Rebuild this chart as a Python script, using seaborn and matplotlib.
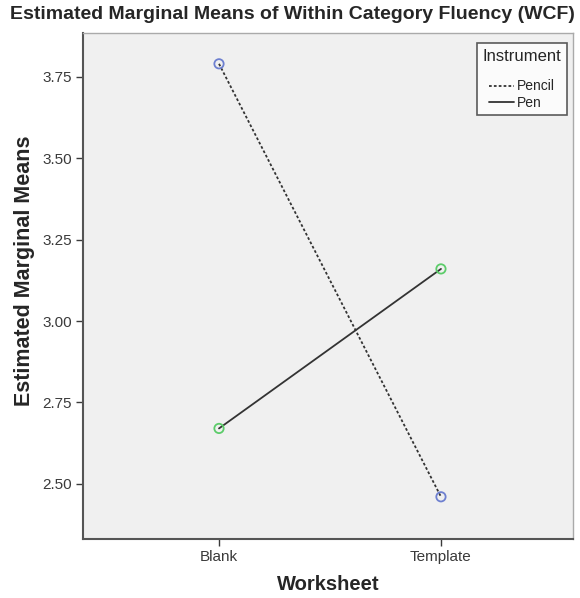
import pandas as pd
import matplotlib
matplotlib.use("Agg")
import matplotlib.pyplot as plt
import seaborn as sns
from matplotlib.lines import Line2D

worksheet = ["Blank", "Template"]
pencil_means = [3.79, 2.46]
pen_means = [2.67, 3.16]
instruments = ["Pencil", "Pen"]

df = pd.DataFrame({
    "Worksheet": worksheet * 2,
    "Mean": pencil_means + pen_means,
    "Instrument": ["Pencil"] * 2 + ["Pen"] * 2,
})
df["x"] = df["Worksheet"].map({w: i for i, w in enumerate(worksheet)})

sns.set_style("white")
plt.rcParams["font.family"] = ["Liberation Sans", "DejaVu Sans"]

fig, ax = plt.subplots(figsize=(5.8, 5.98), dpi=100)
fig.subplots_adjust(left=0.143, right=0.988, top=0.945, bottom=0.099)
ax.set_facecolor("#f0f0f0")

# lines
sns.lineplot(data=df, x="x", y="Mean", style="Instrument", style_order=instruments,
             dashes={"Pencil": (1.5, 1.2), "Pen": ""}, color="#333333",
             linewidth=1.3, legend=False, ax=ax)
# open circle markers, outline colour by instrument
sns.scatterplot(data=df, x="x", y="Mean", hue="Instrument", hue_order=instruments,
                palette={"Pencil": "#6e80d0", "Pen": "#5ccc6a"},
                s=45, legend=False, ax=ax, zorder=5)
pts = ax.collections[-1]
pts.set_edgecolors(pts.get_facecolors())
pts.set_facecolors("none")
pts.set_linewidths(1.3)

ax.set_xlim(-0.613, 1.595)
ax.set_ylim(2.331, 3.885)
ax.set_xticks(range(len(worksheet)))
ax.set_xticklabels(worksheet)
ax.set_yticks([2.50, 2.75, 3.00, 3.25, 3.50, 3.75])
ax.set_yticklabels(["2.50", "2.75", "3.00", "3.25", "3.50", "3.75"])
ax.tick_params(axis="both", labelsize=11, colors="#3a3a3a", length=5, width=1,
               direction="out", left=True, bottom=True, pad=3)

for side in ["left", "bottom"]:
    ax.spines[side].set_color("#555555")
    ax.spines[side].set_linewidth(1.5)
for side in ["top", "right"]:
    ax.spines[side].set_color("#aaaaaa")
    ax.spines[side].set_linewidth(1.0)

ax.set_xlabel("Worksheet", fontsize=14.5, fontweight="bold", labelpad=8)
ax.set_ylabel("Estimated Marginal Means", fontsize=15.5, fontweight="bold")
ax.yaxis.set_label_coords(-0.098, 0.53)
fig.suptitle("Estimated Marginal Means of Within Category Fluency (WCF)",
             fontsize=14, fontweight="bold", x=0.505, y=0.99)

handles = [Line2D([0], [0], color="#333333", lw=1.3, dashes=(1.5, 1.2)),
           Line2D([0], [0], color="#333333", lw=1.3)]
leg = ax.legend(handles, instruments, title="Instrument\n", loc="upper right",
                bbox_to_anchor=(0.988, 0.98), borderaxespad=0,
                fontsize=10, title_fontsize=12, frameon=True, fancybox=False,
                handlelength=1.8, handletextpad=0.2, borderpad=0.4,
                labelspacing=0.15, edgecolor="#333333")
leg.get_frame().set_linewidth(1.2)
leg.get_frame().set_facecolor("white")
leg.get_title().set_linespacing(0.9)

fig.savefig("out.png", dpi=100)
